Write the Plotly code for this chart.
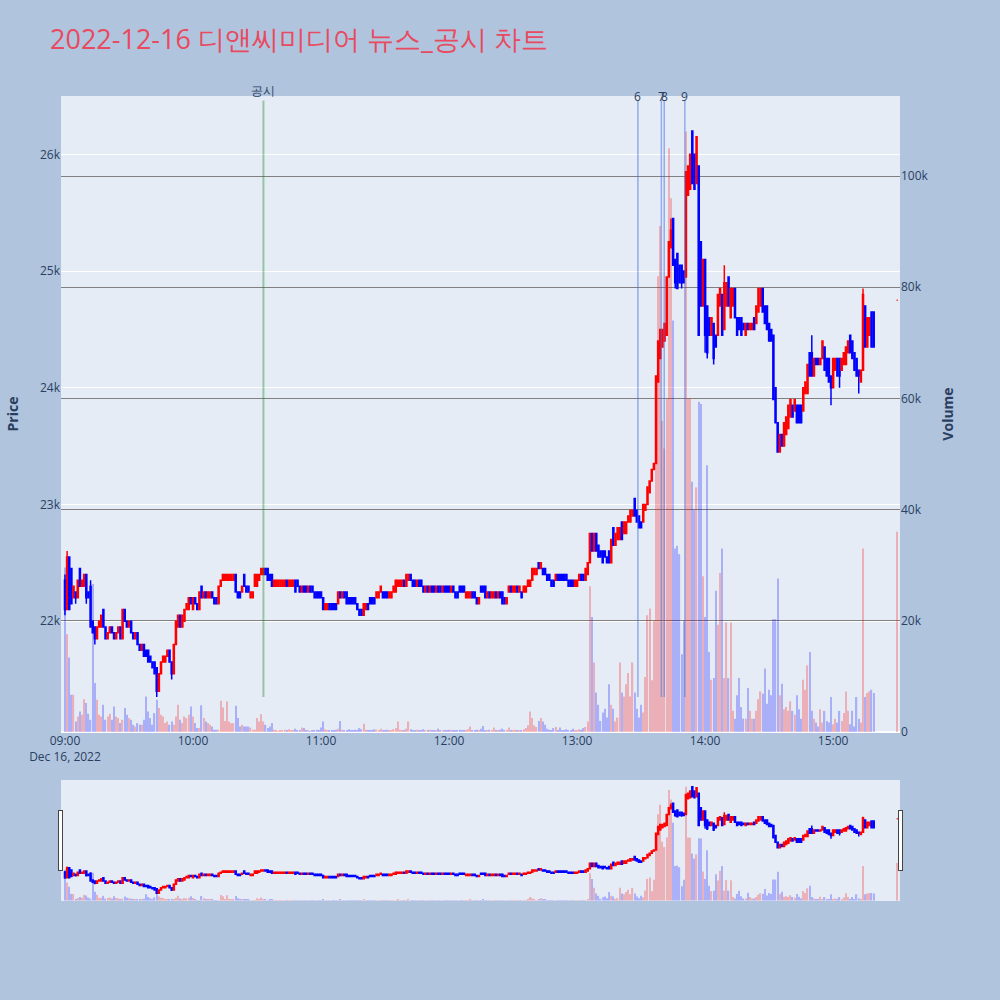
import pandas as pd
import plotly.graph_objects as go
from plotly.subplots import make_subplots

TITLE = "2022-12-16 디앤씨미디어 뉴스_공시 차트"

# minute timestamps of the session (09:00-15:19) plus the 15:30 closing print
TIMES = list(pd.date_range("2022-12-16 09:00", "2022-12-16 15:19", freq="min")) + [pd.Timestamp("2022-12-16 15:30")]

OPEN = [
    22350, 22100, 22550, 22450, 22200, 22250, 22200, 22450, 22300, 22300,
    22400, 22250, 22300, 22000, 21950, 21850, 21950, 21950, 22100, 21950,
    21850, 21900, 21950, 21900, 21850, 21900, 21950, 21850, 22100, 22000,
    21950, 22000, 21900, 21850, 21900, 21800, 21750, 21800, 21750, 21750,
    21700, 21650, 21650, 21600, 21400, 21550, 21650, 21650, 21700, 21750,
    21650, 21550, 21800, 21950, 22050, 21950, 22000, 22100, 22100, 22200,
    22100, 22200, 22150, 22100, 22300, 22200, 22250, 22200, 22200, 22250,
    22200, 22200, 22150, 22300, 22350, 22350, 22350, 22350, 22350, 22350,
    22400, 22250, 22250, 22250, 22400, 22300, 22300, 22200, 22200, 22300,
    22300, 22350, 22400, 22400, 22450, 22450, 22400, 22400, 22300, 22300,
    22300, 22300, 22300, 22300, 22350, 22300, 22300, 22300, 22350, 22350,
    22300, 22250, 22300, 22300, 22250, 22300, 22300, 22250, 22250, 22250,
    22250, 22200, 22100, 22100, 22150, 22150, 22150, 22150, 22150, 22250,
    22200, 22250, 22250, 22200, 22200, 22200, 22200, 22150, 22100, 22100,
    22050, 22100, 22150, 22200, 22200, 22200, 22200, 22200, 22250, 22250,
    22250, 22250, 22200, 22200, 22250, 22250, 22300, 22300, 22300, 22350,
    22300, 22350, 22400, 22350, 22350, 22300, 22350, 22350, 22300, 22250,
    22300, 22250, 22300, 22300, 22250, 22300, 22300, 22250, 22300, 22300,
    22300, 22250, 22300, 22250, 22250, 22300, 22300, 22300, 22200, 22200,
    22200, 22250, 22250, 22200, 22150, 22300, 22300, 22300, 22200, 22250,
    22200, 22200, 22250, 22200, 22250, 22250, 22200, 22150, 22250, 22300,
    22250, 22250, 22300, 22250, 22250, 22250, 22250, 22300, 22300, 22350,
    22400, 22400, 22500, 22450, 22450, 22450, 22400, 22400, 22350, 22350,
    22350, 22400, 22400, 22400, 22400, 22400, 22350, 22350, 22350, 22300,
    22300, 22350, 22400, 22400, 22350, 22400, 22500, 22750, 22600, 22750,
    22650, 22600, 22600, 22600, 22550, 22600, 22500, 22800, 22650, 22700,
    22700, 22850, 22750, 22750, 22850, 22850, 22900, 23050, 22950, 22900,
    22850, 22850, 22950, 23000, 23100, 23200, 23300, 23350, 24050, 24250,
    24350, 24400, 24450, 24950, 25200, 25450, 25100, 25150, 25050, 25050,
    25000, 24950, 25650, 25700, 26200, 26000, 25750, 25900, 25250, 24700,
    25100, 24700, 24600, 24450, 24550, 24450, 24450, 24700, 24800, 24500,
    24700, 24950, 24600, 24700, 24850, 24600, 24600, 24600, 24550, 24450,
    24550, 24500, 24500, 24600, 24550, 24650, 24700, 24850, 24700, 24700,
    24550, 24500, 24450, 24000, 23700, 23450, 23600, 23500, 23600, 23650,
    23750, 23850, 23800, 23850, 23850, 23850, 23800, 23950, 23950, 24300,
    24300, 24100, 24250, 24250, 24200, 24250, 24350, 24250, 24250, 24100,
    24000, 24150, 24250, 24250, 24150, 24200, 24200, 24300, 24450, 24400,
    24300, 24250, 24150, 24050, 24150, 24700, 24350, 24450, 24650, 24650,
    24750,
]

HIGH = [
    22400, 22600, 22550, 22450, 22300, 22250, 22350, 22450, 22350, 22400,
    22400, 22250, 22350, 22000, 21950, 21950, 22000, 22050, 22100, 21950,
    21900, 21950, 21950, 21900, 21900, 21950, 21950, 22100, 22100, 22000,
    22000, 22000, 21900, 21900, 21900, 21800, 21800, 21800, 21750, 21750,
    21700, 21650, 21650, 21600, 21550, 21650, 21700, 21700, 21750, 21750,
    21650, 21800, 22000, 22050, 22050, 22050, 22100, 22150, 22200, 22200,
    22200, 22200, 22150, 22250, 22300, 22250, 22250, 22250, 22250, 22250,
    22200, 22200, 22300, 22350, 22400, 22400, 22400, 22400, 22400, 22400,
    22400, 22250, 22250, 22300, 22400, 22300, 22300, 22250, 22250, 22400,
    22400, 22400, 22450, 22450, 22450, 22450, 22400, 22400, 22350, 22350,
    22350, 22350, 22350, 22350, 22350, 22350, 22350, 22350, 22350, 22350,
    22300, 22300, 22300, 22300, 22300, 22300, 22300, 22250, 22250, 22250,
    22250, 22200, 22150, 22150, 22150, 22150, 22150, 22150, 22250, 22250,
    22250, 22250, 22250, 22200, 22200, 22200, 22200, 22150, 22100, 22100,
    22150, 22150, 22150, 22200, 22200, 22200, 22250, 22250, 22300, 22250,
    22250, 22250, 22250, 22250, 22300, 22350, 22350, 22350, 22350, 22350,
    22400, 22400, 22400, 22350, 22350, 22350, 22350, 22350, 22300, 22300,
    22300, 22300, 22300, 22300, 22300, 22300, 22300, 22300, 22300, 22300,
    22300, 22300, 22300, 22250, 22250, 22300, 22300, 22300, 22250, 22250,
    22250, 22250, 22250, 22200, 22200, 22300, 22300, 22300, 22250, 22250,
    22250, 22250, 22250, 22250, 22250, 22250, 22200, 22200, 22300, 22300,
    22300, 22300, 22300, 22300, 22250, 22300, 22300, 22350, 22350, 22450,
    22450, 22450, 22500, 22500, 22450, 22450, 22400, 22400, 22350, 22350,
    22400, 22400, 22400, 22400, 22400, 22400, 22350, 22350, 22350, 22350,
    22350, 22400, 22400, 22400, 22450, 22500, 22750, 22750, 22750, 22750,
    22650, 22600, 22600, 22600, 22550, 22600, 22700, 22800, 22750, 22800,
    22800, 22850, 22850, 22850, 22900, 22950, 22950, 23050, 22950, 22900,
    22850, 23000, 23000, 23150, 23200, 23300, 23350, 24100, 24400, 24500,
    24500, 24550, 24950, 25250, 25450, 25450, 25100, 25150, 25050, 25050,
    25000, 25850, 25900, 26000, 26200, 26000, 26150, 25900, 25250, 25100,
    25100, 24700, 24600, 24600, 24550, 24450, 24800, 24850, 24800, 25050,
    24900, 24950, 24850, 24850, 24850, 24600, 24600, 24600, 24550, 24550,
    24550, 24550, 24550, 24600, 24700, 24850, 24850, 24850, 24700, 24700,
    24550, 24500, 24450, 24000, 23700, 23600, 23600, 23700, 23750, 23850,
    23900, 23850, 23900, 23850, 23850, 23850, 24000, 24050, 24200, 24300,
    24450, 24250, 24250, 24250, 24250, 24400, 24350, 24250, 24250, 24100,
    24250, 24250, 24250, 24250, 24250, 24300, 24350, 24400, 24450, 24400,
    24300, 24250, 24150, 24150, 24850, 24700, 24600, 24600, 24650, 24650,
    24750,
]

LOW = [
    22050, 22100, 22100, 22150, 22200, 22150, 22200, 22300, 22300, 22300,
    22150, 22200, 21950, 21900, 21800, 21850, 21950, 21950, 21950, 21850,
    21850, 21900, 21900, 21850, 21850, 21900, 21850, 21850, 22000, 21950,
    21950, 21900, 21850, 21850, 21800, 21750, 21750, 21700, 21700, 21650,
    21650, 21600, 21550, 21350, 21400, 21550, 21650, 21650, 21700, 21650,
    21500, 21550, 21800, 21950, 21950, 21950, 22000, 22100, 22100, 22150,
    22100, 22150, 22100, 22100, 22200, 22200, 22200, 22200, 22200, 22200,
    22150, 22150, 22150, 22300, 22350, 22350, 22350, 22350, 22350, 22350,
    22250, 22200, 22200, 22250, 22300, 22250, 22250, 22200, 22200, 22300,
    22300, 22350, 22400, 22400, 22400, 22350, 22350, 22300, 22300, 22300,
    22300, 22300, 22300, 22300, 22300, 22300, 22300, 22300, 22250, 22300,
    22250, 22250, 22250, 22250, 22250, 22250, 22250, 22200, 22200, 22200,
    22200, 22100, 22100, 22100, 22100, 22100, 22100, 22100, 22150, 22200,
    22200, 22200, 22150, 22150, 22150, 22150, 22150, 22100, 22050, 22050,
    22050, 22100, 22100, 22150, 22150, 22150, 22200, 22200, 22250, 22200,
    22200, 22200, 22200, 22200, 22250, 22250, 22300, 22300, 22300, 22300,
    22300, 22350, 22350, 22300, 22300, 22300, 22300, 22300, 22250, 22250,
    22250, 22250, 22250, 22250, 22250, 22250, 22250, 22250, 22250, 22250,
    22250, 22250, 22250, 22200, 22200, 22250, 22250, 22250, 22200, 22200,
    22200, 22200, 22200, 22150, 22150, 22250, 22250, 22200, 22200, 22200,
    22200, 22200, 22200, 22200, 22200, 22150, 22150, 22150, 22250, 22250,
    22250, 22250, 22250, 22250, 22200, 22250, 22250, 22300, 22300, 22350,
    22400, 22400, 22450, 22450, 22400, 22400, 22350, 22350, 22300, 22300,
    22350, 22350, 22350, 22350, 22350, 22350, 22300, 22300, 22300, 22300,
    22300, 22350, 22350, 22350, 22350, 22400, 22500, 22600, 22600, 22600,
    22550, 22550, 22500, 22550, 22500, 22500, 22500, 22650, 22650, 22700,
    22700, 22700, 22750, 22750, 22850, 22850, 22900, 22900, 22850, 22800,
    22800, 22850, 22950, 23000, 23100, 23200, 23300, 23350, 24050, 24250,
    24350, 24400, 24450, 24950, 25200, 25050, 24850, 24850, 24900, 24850,
    24900, 24950, 25650, 25700, 25750, 25700, 25750, 24450, 24700, 24700,
    24300, 24250, 24450, 24450, 24200, 24350, 24450, 24700, 24450, 24500,
    24700, 24700, 24600, 24700, 24600, 24450, 24500, 24450, 24500, 24450,
    24500, 24500, 24500, 24500, 24550, 24650, 24700, 24650, 24550, 24500,
    24400, 24400, 23900, 23700, 23450, 23450, 23500, 23500, 23600, 23650,
    23750, 23750, 23800, 23700, 23700, 23700, 23800, 23950, 23950, 24100,
    24100, 24100, 24200, 24200, 24200, 24250, 24150, 24100, 24050, 23850,
    24000, 24150, 24100, 24000, 24150, 24200, 24200, 24300, 24300, 24250,
    24150, 24100, 23950, 24050, 24150, 24350, 24350, 24450, 24350, 24350,
    24750,
]

CLOSE = [
    22100, 22550, 22100, 22150, 22300, 22200, 22350, 22300, 22350, 22400,
    22200, 22200, 21950, 21900, 21850, 21950, 22000, 22050, 21950, 21850,
    21900, 21950, 21900, 21850, 21900, 21950, 21850, 22100, 22000, 21950,
    22000, 21900, 21850, 21900, 21800, 21750, 21800, 21700, 21700, 21650,
    21650, 21600, 21550, 21400, 21550, 21650, 21700, 21700, 21750, 21650,
    21550, 21800, 22000, 22050, 21950, 22050, 22100, 22150, 22200, 22150,
    22200, 22150, 22100, 22250, 22200, 22250, 22200, 22250, 22250, 22200,
    22150, 22150, 22300, 22350, 22400, 22400, 22400, 22400, 22400, 22400,
    22250, 22200, 22200, 22300, 22300, 22250, 22250, 22250, 22250, 22400,
    22400, 22400, 22450, 22450, 22400, 22350, 22350, 22300, 22350, 22350,
    22350, 22350, 22350, 22350, 22300, 22350, 22350, 22350, 22250, 22300,
    22250, 22300, 22250, 22250, 22300, 22250, 22250, 22200, 22200, 22200,
    22200, 22100, 22150, 22150, 22100, 22100, 22100, 22100, 22250, 22200,
    22250, 22200, 22150, 22150, 22150, 22150, 22150, 22100, 22050, 22050,
    22150, 22150, 22100, 22150, 22150, 22150, 22250, 22250, 22300, 22200,
    22200, 22200, 22250, 22250, 22300, 22350, 22350, 22350, 22350, 22300,
    22400, 22400, 22350, 22300, 22300, 22350, 22300, 22300, 22250, 22300,
    22250, 22300, 22250, 22250, 22300, 22250, 22250, 22300, 22250, 22250,
    22250, 22300, 22250, 22200, 22200, 22250, 22250, 22250, 22250, 22250,
    22250, 22200, 22200, 22150, 22200, 22250, 22250, 22200, 22250, 22200,
    22250, 22250, 22200, 22250, 22200, 22150, 22150, 22200, 22300, 22250,
    22300, 22300, 22250, 22300, 22200, 22300, 22300, 22350, 22350, 22450,
    22450, 22450, 22450, 22500, 22400, 22400, 22350, 22350, 22300, 22300,
    22400, 22350, 22350, 22350, 22350, 22350, 22300, 22300, 22300, 22350,
    22350, 22400, 22350, 22350, 22450, 22500, 22750, 22600, 22750, 22600,
    22550, 22550, 22500, 22550, 22500, 22500, 22700, 22650, 22750, 22800,
    22800, 22700, 22850, 22850, 22900, 22950, 22950, 22900, 22850, 22800,
    22800, 23000, 23000, 23150, 23200, 23300, 23350, 24100, 24400, 24500,
    24500, 24550, 24950, 25250, 25350, 25050, 24900, 24850, 24900, 24900,
    24900, 25850, 25900, 26000, 25750, 25700, 26150, 24450, 24700, 25100,
    24450, 24300, 24450, 24600, 24250, 24350, 24800, 24850, 24450, 24900,
    24900, 24700, 24850, 24850, 24600, 24450, 24500, 24450, 24500, 24550,
    24500, 24550, 24550, 24500, 24700, 24850, 24850, 24650, 24550, 24500,
    24400, 24400, 23900, 23700, 23450, 23600, 23500, 23700, 23750, 23850,
    23900, 23750, 23900, 23700, 23700, 23700, 24000, 24050, 24200, 24100,
    24100, 24250, 24200, 24200, 24250, 24400, 24150, 24100, 24050, 24000,
    24250, 24250, 24100, 24100, 24250, 24300, 24350, 24400, 24300, 24250,
    24150, 24100, 24100, 24150, 24800, 24350, 24600, 24600, 24350, 24350,
    24750,
]

VOLUME = [
    29600, 17600, 13400, 6700, 6700, 1900, 2800, 3700, 3100, 5900,
    5200, 3300, 2200, 26600, 8800, 5800, 3100, 2800, 4900, 2200,
    2800, 3300, 2200, 4600, 2800, 2500, 1600, 2200, 4300, 3100,
    2500, 2200, 1300, 1000, 1600, 1300, 1300, 2200, 6400, 3700,
    2500, 1300, 3400, 5800, 4300, 3100, 2800, 1600, 1900, 1300,
    1900, 1300, 2800, 4900, 2200, 1600, 2800, 2500, 3100, 4600,
    2800, 1600, 700, 700, 4800, 2500, 1900, 1600, 1300, 1000,
    400, 400, 400, 5600, 4400, 2000, 5500, 1900, 1600, 1600,
    4700, 2500, 1000, 1300, 1000, 1000, 1000, 800, 400, 400,
    2500, 1900, 3200, 1900, 1300, 700, 1000, 1600, 400, 250,
    150, 300, 200, 400, 300, 500, 300, 200, 600, 350,
    200, 800, 700, 300, 250, 150, 300, 200, 400, 300,
    800, 1900, 500, 300, 200, 300, 200, 400, 600, 2000,
    400, 300, 200, 500, 300, 200, 400, 300, 700, 500,
    1500, 400, 300, 200, 300, 500, 400, 300, 600, 200,
    300, 400, 200, 300, 500, 700, 1900, 400, 300, 200,
    600, 1900, 500, 300, 200, 400, 300, 200, 500, 300,
    200, 400, 300, 200, 300, 600, 300, 200, 300, 200,
    400, 300, 200, 300, 200, 400, 300, 200, 300, 500,
    1000, 300, 200, 400, 300, 600, 1100, 300, 200, 400,
    300, 800, 200, 300, 400, 600, 300, 200, 800, 300,
    200, 400, 300, 200, 300, 500, 700, 1200, 3700, 2500,
    1200, 900, 2000, 2500, 1900, 1300, 600, 400, 300, 700,
    900, 300, 800, 200, 300, 500, 200, 300, 600, 300,
    200, 500, 400, 700, 900, 1900, 26200, 20700, 12500, 7100,
    4900, 2000, 3500, 4200, 2600, 8600, 4900, 4200, 1900, 2600,
    12500, 7100, 6400, 8600, 10600, 6400, 12500, 7100, 4200, 2600,
    4900, 3500, 9900, 21000, 22200, 9300, 20000, 50000, 82000, 91000,
    56000, 51000, 60000, 105000, 96000, 74000, 33000, 33500, 32000, 14000,
    20000, 108000, 60000, 60000, 45000, 40000, 44000, 59400, 59000, 28000,
    20700, 48000, 14400, 9400, 9700, 25400, 19300, 28600, 33000, 9700,
    19700, 9700, 19700, 3800, 2400, 6600, 9700, 4500, 2400, 2400,
    7900, 3800, 2400, 2400, 3800, 5900, 7300, 6900, 11400, 5100,
    7600, 6600, 20300, 20300, 27600, 6600, 8700, 4100, 4500, 3800,
    5500, 3800, 3100, 6600, 4100, 2400, 9400, 7600, 12000, 14400,
    3800, 2400, 1700, 1000, 4100, 1700, 3800, 2000, 1700, 6300,
    1400, 2400, 1700, 3800, 2000, 3400, 7300, 3800, 1400, 3800,
    1000, 6300, 2400, 1700, 33000, 6300, 7000, 7300, 7600, 7000,
    36000,
]

# news / disclosure events (vertical markers)
EVENT_TIMES = ["2022-12-16 10:33:00", "2022-12-16 13:28:30", "2022-12-16 13:39:30",
               "2022-12-16 13:40:50", "2022-12-16 13:50:30"]
EVENT_LABELS = ["공시", "6", "7", "8", "9"]
EVENT_KINDS = ["disclosure", "news", "news", "news", "news"]

X_RANGE = ["2022-12-16 08:58:08", "2022-12-16 15:31:20"]

fig = make_subplots(specs=[[{"secondary_y": True}]])

fig.add_trace(
    go.Candlestick(
        x=TIMES, open=OPEN, high=HIGH, low=LOW, close=CLOSE,
        increasing=dict(line=dict(color="red", width=1.5), fillcolor="red"),
        decreasing=dict(line=dict(color="blue", width=1.5), fillcolor="blue"),
        name="Price", showlegend=False,
    ),
    secondary_y=False,
)

bar_colors = []
prev_close = None
for o, c in zip(OPEN, CLOSE):
    if c > o or (c == o and prev_close is not None and c > prev_close):
        bar_colors.append("red")
    else:
        bar_colors.append("blue")
    prev_close = c

fig.add_trace(
    go.Bar(x=TIMES, y=VOLUME, marker=dict(color=bar_colors, line=dict(width=0)),
           opacity=0.25, name="Volume", showlegend=False),
    secondary_y=True,
)

y_bottom = min(LOW)
y_top = max(HIGH) * 1.01
for t, label, kind in zip(EVENT_TIMES, EVENT_LABELS, EVENT_KINDS):
    is_disc = kind == "disclosure"
    color = "rgba(0,128,0,0.35)" if is_disc else "rgba(65,105,225,0.5)"
    width = 2 if is_disc else 1.5
    fig.add_shape(type="line", xref="x", yref="y", x0=t, x1=t, y0=y_bottom, y1=y_top,
                  line=dict(color=color, width=width))
    fig.add_annotation(x=t, xref="x", y=1, yref="paper", text=label, showarrow=False,
                       yanchor="middle", yshift=6 if is_disc else 0,
                       font=dict(size=12, color="#2a3f5f"))

fig.update_layout(
    width=1000, height=1000,
    paper_bgcolor="lightsteelblue",
    plot_bgcolor="#E5ECF6",
    margin=dict(l=60, r=100, t=96, b=100),
    title=dict(text=TITLE, x=0.05, xanchor="left", y=0.96, yanchor="middle",
               font=dict(size=27, color="#E84A5F")),
    showlegend=False,
    bargap=0.4,
)
fig.update_xaxes(domain=[0, 1], range=X_RANGE,
                 rangeslider=dict(visible=True, range=X_RANGE, bgcolor="#E5ECF6"))
fig.update_yaxes(title_text="<b>Price</b>", range=[21050, 26500], secondary_y=False,
                 gridcolor="white", title_standoff=18)
fig.update_yaxes(title_text="<b>Volume</b>", range=[0, 114400], secondary_y=True,
                 showgrid=True, gridcolor="gray", gridwidth=1)

fig.write_html("out.html", config={"displayModeBar": False},
               post_script="document.body.style.margin='0px';")
